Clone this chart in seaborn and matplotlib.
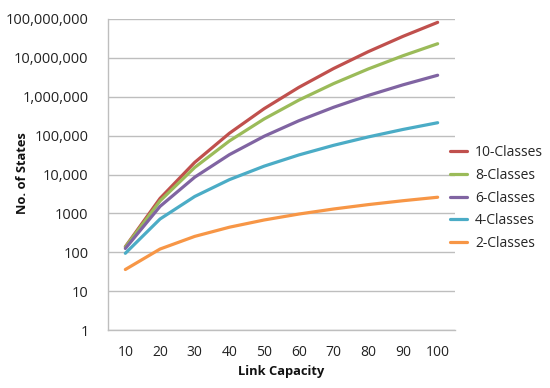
import pandas as pd
import matplotlib
matplotlib.use("Agg")
import matplotlib.pyplot as plt
import seaborn as sns
from matplotlib.ticker import FixedLocator, FixedFormatter, NullFormatter

# link capacity categories
capacity = [10, 20, 30, 40, 50, 60, 70, 80, 90, 100]

# number of states per class count
states_10 = [139, 2430, 20540, 115300, 494000, 1743600, 5315600, 14443000, 35755000, 81963000]
states_8 = [136, 2090, 15200, 73060, 268700, 819700, 2175900, 5185800, 11339500, 23110000]
states_6 = [125, 1513, 8546, 32460, 96330, 241500, 535300, 1080300, 2024700, 3574400]
states_4 = [94, 717, 2723, 7387, 16390, 31840, 56260, 92580, 144160, 214770]
states_2 = [36, 121, 256, 441, 676, 961, 1296, 1681, 2116, 2601]

series_names = ["10-Classes", "8-Classes", "6-Classes", "4-Classes", "2-Classes"]
series_values = [states_10, states_8, states_6, states_4, states_2]

colors = {
    "10-Classes": "#C0504D",
    "8-Classes": "#9BBB59",
    "6-Classes": "#8064A2",
    "4-Classes": "#4BACC6",
    "2-Classes": "#F79646",
}

y_ticks = [1, 10, 100, 1000, 10000, 100000, 1000000, 10000000, 100000000]
y_labels = ["1", "10", "100", "1000", "10,000", "100,000", "1,000,000", "10,000,000", "100,000,000"]

rows = []
for name, vals in zip(series_names, series_values):
    for c, v in zip(capacity, vals):
        rows.append({"Link Capacity": c, "No. of States": v, "Series": name})
df = pd.DataFrame(rows)

sns.set_style("white")
plt.rcParams["font.family"] = ["Open Sans", "DejaVu Sans"]

fig = plt.figure(figsize=(5.5, 3.88), dpi=100)
ax = fig.add_axes([108 / 550, 1 - 330 / 388, 347 / 550, 311 / 388])

sns.lineplot(data=df, x="Link Capacity", y="No. of States", hue="Series",
             hue_order=series_names, palette=colors, linewidth=2.3, ax=ax)

ax.set_yscale("log")
ax.set_ylim(1, 1e8)
ax.yaxis.set_major_locator(FixedLocator(y_ticks))
ax.yaxis.set_major_formatter(FixedFormatter(y_labels))
ax.yaxis.set_minor_formatter(NullFormatter())
ax.tick_params(axis="y", which="both", length=0, pad=14, labelsize=10.5, colors="#222222")
ax.grid(axis="y", color="#BEBEBE", linewidth=1.0)
ax.set_axisbelow(True)

ax.set_xlim(5, 105)
ax.xaxis.set_major_locator(FixedLocator(capacity))
ax.xaxis.set_major_formatter(FixedFormatter([str(c) for c in capacity]))
ax.xaxis.set_minor_locator(FixedLocator([c - 5 for c in capacity] + [105]))
ax.tick_params(axis="x", which="major", length=0, pad=11, labelsize=10, colors="#222222")
ax.tick_params(axis="x", which="minor", length=5, width=1, color="#BEBEBE", direction="out")

for side in ["top", "right"]:
    ax.spines[side].set_visible(False)
for side in ["left", "bottom"]:
    ax.spines[side].set_color("#BEBEBE")
    ax.spines[side].set_linewidth(1.0)

ax.set_xlabel("Link Capacity", fontsize=9.3, fontweight="bold", color="#111111")
ax.xaxis.set_label_coords(0.5, -0.135)
ax.xaxis.label.set_va("center")
ax.set_ylabel("No. of States", fontsize=9.3, fontweight="bold", color="#111111")
ax.yaxis.set_label_coords(-0.246, 0.506)
ax.yaxis.label.set_va("center")

handles, labels = ax.get_legend_handles_labels()
ax.legend(handles, labels, loc="center left", bbox_to_anchor=(450 / 550, 1 - 198 / 388),
          bbox_transform=fig.transFigure, frameon=False, fontsize=10,
          handlelength=1.2, handletextpad=0.6, labelspacing=0.55, borderpad=0,
          borderaxespad=0)

fig.savefig("out.png", dpi=100)
